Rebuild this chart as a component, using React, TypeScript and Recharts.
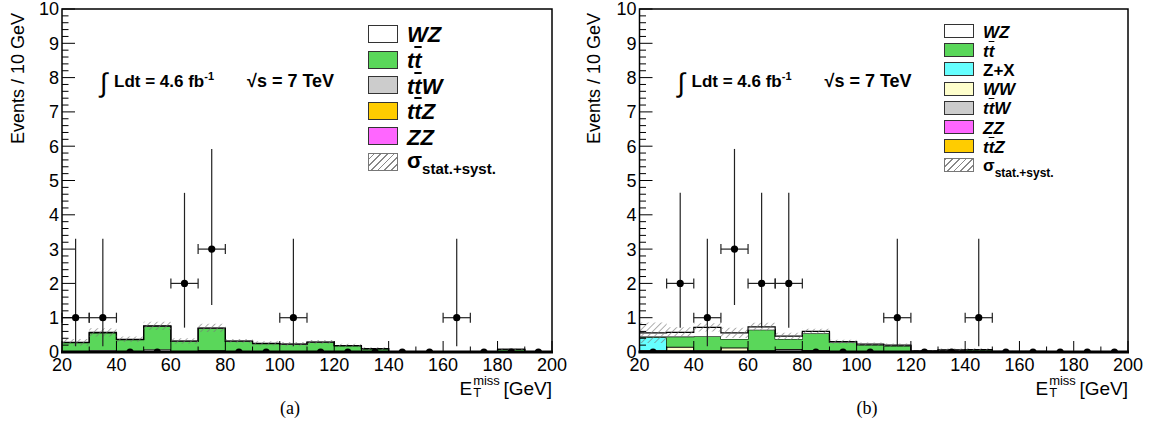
import React from 'react';
import { ComposedChart, Area, Scatter, ErrorBar, XAxis, YAxis } from 'recharts';

const FONT = '"Liberation Sans", Arial, Helvetica, sans-serif';

// bin edges (10 GeV bins), the last one is the upper edge of the last bin
const BIN_EDGES = [20, 30, 40, 50, 60, 70, 80, 90, 100, 110, 120, 130, 140, 150, 160, 170, 180, 190, 200];
const BIN_CENTERS = [25, 35, 45, 55, 65, 75, 85, 95, 105, 115, 125, 135, 145, 155, 165, 175, 185, 195];
const X_LABELS = [20, 40, 60, 80, 100, 120, 140, 160, 180, 200];
const Y_LABELS = [0, 1, 2, 3, 4, 5, 6, 7, 8, 9, 10];

// panel (a) backgrounds, bottom -> top
const A_ZZ = [0.01, 0.01, 0.01, 0.01, 0.01, 0.01, 0, 0, 0, 0, 0, 0, 0, 0, 0, 0, 0, 0];
const A_TTZ = [0.01, 0.01, 0.01, 0.01, 0.01, 0.01, 0.01, 0.01, 0, 0, 0, 0, 0, 0, 0, 0, 0, 0];
const A_TTW = [0.01, 0.04, 0.01, 0.06, 0.01, 0.03, 0.01, 0.01, 0.01, 0.01, 0, 0, 0, 0, 0, 0, 0, 0];
const A_TT = [0.24, 0.5, 0.33, 0.67, 0.28, 0.64, 0.29, 0.22, 0.21, 0.27, 0.18, 0.09, 0, 0.01, 0, 0, 0.08, 0];
const A_WZ = [0.01, 0.01, 0.01, 0.01, 0.01, 0.01, 0.01, 0.01, 0.01, 0.01, 0.01, 0.01, 0, 0, 0, 0, 0, 0];
const A_SYST = [0.1, 0.12, 0.08, 0.12, 0.08, 0.12, 0.06, 0.06, 0.06, 0.06, 0.05, 0.04, 0.01, 0.02, 0.01, 0.01, 0.04, 0.01];
const A_DATA = [1, 1, 0, 0, 2, 3, 0, 0, 1, 0, 0, 0, 0, 0, 1, 0, 0, 0];

// panel (b) backgrounds, bottom -> top
const B_TTZ = [0.01, 0.01, 0.01, 0.01, 0.01, 0.01, 0.01, 0.01, 0, 0, 0, 0, 0, 0, 0, 0, 0, 0];
const B_ZZ = [0.03, 0.03, 0.01, 0.01, 0.01, 0.01, 0.01, 0, 0, 0, 0, 0, 0, 0, 0, 0, 0, 0];
const B_TTW = [0.02, 0.01, 0.02, 0.01, 0.02, 0.06, 0.03, 0.01, 0.01, 0.01, 0, 0, 0, 0, 0, 0, 0, 0];
const B_WW = [0, 0.1, 0.02, 0.1, 0.01, 0.01, 0.01, 0, 0, 0, 0, 0, 0, 0, 0, 0, 0, 0];
const B_ZX = [0.37, 0, 0, 0, 0, 0, 0, 0, 0, 0, 0, 0, 0, 0, 0, 0, 0, 0];
const B_TT = [0.02, 0.3, 0.4, 0.25, 0.6, 0.29, 0.49, 0.26, 0.2, 0.17, 0.02, 0.05, 0.06, 0.01, 0.01, 0, 0, 0];
const B_WZ = [0.11, 0.12, 0.26, 0.18, 0.08, 0.08, 0.05, 0.02, 0.02, 0.02, 0.01, 0.01, 0.01, 0.01, 0.01, 0, 0, 0];
const B_SYST = [0.3, 0.15, 0.12, 0.15, 0.12, 0.1, 0.08, 0.06, 0.05, 0.05, 0.03, 0.04, 0.04, 0.02, 0.02, 0.01, 0, 0];
const B_DATA = [0, 2, 1, 3, 2, 2, 0, 0, 0, 1, 0, 0, 1, 0, 0, 0, 0, 0];

const POISSON_LOW = [0, 0.17, 0.71, 1.37];
const POISSON_HIGH = [0, 3.3, 4.64, 5.92];

const COLORS = {
  WZ: '#ffffff',
  tt: '#5ad75a',
  ZX: '#66ffff',
  WW: '#ffffcc',
  ttW: '#cccccc',
  ZZ: '#ff66ff',
  ttZ: '#ffcc00',
};

const SERIES_A = [
  { key: 'ZZ', values: A_ZZ },
  { key: 'ttZ', values: A_TTZ },
  { key: 'ttW', values: A_TTW },
  { key: 'tt', values: A_TT },
  { key: 'WZ', values: A_WZ },
];

const SERIES_B = [
  { key: 'ttZ', values: B_TTZ },
  { key: 'ZZ', values: B_ZZ },
  { key: 'ttW', values: B_TTW },
  { key: 'WW', values: B_WW },
  { key: 'ZX', values: B_ZX },
  { key: 'tt', values: B_TT },
  { key: 'WZ', values: B_WZ },
];

const LEGEND_A = ['WZ', 'tt', 'ttW', 'ttZ', 'ZZ', 'syst'];
const LEGEND_B = ['WZ', 'tt', 'ZX', 'WW', 'ttW', 'ZZ', 'ttZ', 'syst'];

const Y_TICKS: number[] = [];
Y_LABELS.forEach((m) => {
  for (let k = 0; k < 5; k++) {
    if (m + k * 0.2 <= 10) Y_TICKS.push(Math.round((m + k * 0.2) * 10) / 10);
  }
});

function buildRows(series: { key: string; values: number[] }[], syst: number[]) {
  return BIN_EDGES.map((x, i) => {
    const b = Math.min(i, BIN_CENTERS.length - 1);
    const row: any = { x };
    let tot = 0;
    series.forEach((s) => {
      row[s.key] = s.values[b];
      tot += s.values[b];
    });
    row.band = [Math.max(0, tot - syst[b]), tot + syst[b]];
    return row;
  });
}

function buildPoints(counts: number[]) {
  return BIN_CENTERS.map((x, i) => {
    const n = counts[i];
    return {
      x,
      n,
      ey: n > 0 ? [n - POISSON_LOW[n], POISSON_HIGH[n] - n] : null,
      ex: n > 0 ? 5 : null,
    };
  });
}

const XTick = (props: any) => {
  const { x, y, payload } = props;
  const major = X_LABELS.includes(payload.value);
  return (
    <g>
      <line x1={x} x2={x} y1={y} y2={y - (major ? 11 : 5.5)} stroke="#000" strokeWidth={1} />
      {major && (
        <text x={x} y={y + 19} textAnchor="middle" fontSize={18} fontFamily={FONT} fill="#000">
          {payload.value}
        </text>
      )}
    </g>
  );
};

const YTick = (props: any) => {
  const { x, y, payload } = props;
  const major = Number.isInteger(payload.value);
  return (
    <g>
      <line x1={x} x2={x + (major ? 13 : 6.5)} y1={y} y2={y} stroke="#000" strokeWidth={1} />
      {major && (
        <text x={x - 3} y={y} dy="0.36em" textAnchor="end" fontSize={18} fontFamily={FONT} fill="#000">
          {payload.value}
        </text>
      )}
    </g>
  );
};

const Dot = (p: any) => <circle cx={p.cx} cy={p.cy} r={3.6} fill="#000" />;

function Panel({ left, marginLeft, marginRight, series, syst, counts }: any) {
  const rows = buildRows(series, syst);
  const points = buildPoints(counts);
  return (
    <div style={{ position: 'absolute', left, top: 0 }}>
      <ComposedChart
        width={580}
        height={400}
        data={rows}
        margin={{ top: 9, right: marginRight, bottom: 47, left: marginLeft }}
      >
        <XAxis
          dataKey="x"
          type="number"
          domain={[20, 200]}
          ticks={BIN_EDGES}
          interval={0}
          tick={<XTick />}
          tickLine={false}
          axisLine={false}
          tickSize={0}
          tickMargin={0}
          height={1}
          allowDataOverflow
        />
        <YAxis
          type="number"
          domain={[0, 10]}
          ticks={Y_TICKS}
          interval={0}
          tick={<YTick />}
          tickLine={false}
          axisLine={false}
          tickSize={0}
          tickMargin={0}
          width={1}
          allowDataOverflow
        />
        {series.map((s: any) => (
          <Area
            key={s.key}
            type="stepAfter"
            dataKey={s.key}
            stackId="bkg"
            fill={(COLORS as any)[s.key]}
            fillOpacity={1}
            stroke="#000"
            strokeWidth={1.2}
            dot={false}
            activeDot={false}
            isAnimationActive={false}
          />
        ))}
        <Area
          type="stepAfter"
          dataKey="band"
          fill="url(#hatch)"
          fillOpacity={1}
          stroke="none"
          dot={false}
          activeDot={false}
          isAnimationActive={false}
        />
        <Scatter data={points} dataKey="n" shape={<Dot />} isAnimationActive={false}>
          <ErrorBar dataKey="ey" direction="y" width={0} stroke="#222" strokeWidth={1.2} />
          <ErrorBar dataKey="ex" direction="x" width={5} stroke="#222" strokeWidth={1.2} />
        </Scatter>
      </ComposedChart>
    </div>
  );
}

const Bar = ({ children }: any) => <span style={{ textDecoration: 'overline' }}>{children}</span>;

function legendLabel(key: string, sub: number) {
  switch (key) {
    case 'WZ':
      return <i>WZ</i>;
    case 'tt':
      return <i>t<Bar>t</Bar></i>;
    case 'ttW':
      return <i>t<Bar>t</Bar>W</i>;
    case 'ttZ':
      return <i>t<Bar>t</Bar>Z</i>;
    case 'ZZ':
      return <i>ZZ</i>;
    case 'WW':
      return <i>WW</i>;
    case 'ZX':
      return <span>Z+X</span>;
    default:
      return (
        <span>
          σ<span style={{ fontSize: sub, position: 'relative', top: sub * 0.45 }}>stat.+syst.</span>
        </span>
      );
  }
}

function Legend({ keys, boxLeft, labelLeft, top, step, boxH, font, sub, systShift }: any) {
  return (
    <>
      {keys.map((k: string, i: number) => {
        const t = top + i * step;
        const isSyst = k === 'syst';
        return (
          <React.Fragment key={k}>
            <div
              style={{
                position: 'absolute',
                left: boxLeft,
                top: t,
                width: 30,
                height: boxH,
                boxSizing: 'border-box',
                border: isSyst ? '1.2px solid #777' : '1.5px solid #333',
                background: isSyst
                  ? 'repeating-linear-gradient(-45deg, #fff 0px, #fff 3.5px, #888 3.5px, #888 4.7px)'
                  : (COLORS as any)[k],
              }}
            />
            <div
              style={{
                position: 'absolute',
                left: labelLeft,
                top: isSyst ? t + systShift : t + boxH - font * 0.85,
                fontFamily: FONT,
                fontWeight: 'bold',
                fontSize: font,
                lineHeight: `${font}px`,
                whiteSpace: 'nowrap',
                color: '#000',
              }}
            >
              {legendLabel(k, sub)}
            </div>
          </React.Fragment>
        );
      })}
    </>
  );
}

function XTitle({ right }: any) {
  return (
    <div
      style={{
        position: 'absolute',
        right: 1158 - right,
        top: 379,
        display: 'flex',
        fontFamily: FONT,
        fontSize: 19,
        lineHeight: '20px',
        whiteSpace: 'nowrap',
      }}
    >
      <span>E</span>
      <span style={{ position: 'relative', width: 26, height: 20 }}>
        <span style={{ position: 'absolute', left: 1, top: -4.5, fontSize: 13, lineHeight: '12px' }}>miss</span>
        <span style={{ position: 'absolute', left: 1, top: 7.8, fontSize: 13, lineHeight: '12px' }}>T</span>
      </span>
      <span>&nbsp;[GeV]</span>
    </div>
  );
}

function Lumi({ x }: { x: number }) {
  return (
    <g fontFamily={FONT} fill="#000">
      <text x={x} y={92} fontSize={27}>∫</text>
      <text x={x + 14} y={86.5} fontSize={17} fontWeight="bold">
        Ldt = 4.6 fb<tspan dy={-7} fontSize={11}>-1</tspan>
      </text>
      <text x={x + 147} y={86.5} fontSize={18} fontWeight="bold">√s = 7 TeV</text>
    </g>
  );
}

export default function App() {
  return (
    <div style={{ position: 'absolute', left: 0, top: 0, width: 1158, height: 443, background: '#fff' }}>
      <svg width={0} height={0} style={{ position: 'absolute' }}>
        <defs>
          <pattern id="hatch" patternUnits="userSpaceOnUse" width={4.7} height={4.7} patternTransform="rotate(45)">
            <line x1={0} y1={0} x2={0} y2={4.7} stroke="#777" strokeWidth={1.2} />
          </pattern>
        </defs>
      </svg>

      <Panel left={0} marginLeft={61} marginRight={28} series={SERIES_A} syst={A_SYST} counts={A_DATA} />
      <Panel left={578} marginLeft={60.5} marginRight={30} series={SERIES_B} syst={B_SYST} counts={B_DATA} />

      <svg
        width={1158}
        height={443}
        style={{ position: 'absolute', left: 0, top: 0, pointerEvents: 'none' }}
      >
        {/* frames */}
        <rect x={62} y={9} width={490} height={343} fill="none" stroke="#000" strokeWidth={1.5} />
        <line x1={61} x2={553} y1={352} y2={352} stroke="#000" strokeWidth={3} />
        <rect x={639.5} y={9} width={488.5} height={343} fill="none" stroke="#000" strokeWidth={1.5} />
        <line x1={638.5} x2={1129} y1={352} y2={352} stroke="#000" strokeWidth={3} />

        {/* y titles */}
        <text transform="translate(23.5,13) rotate(-90)" textAnchor="end" fontSize={18} fontFamily={FONT}>
          Events / 10 GeV
        </text>
        <text transform="translate(600,13) rotate(-90)" textAnchor="end" fontSize={18} fontFamily={FONT}>
          Events / 10 GeV
        </text>

        <Lumi x={100} />
        <Lumi x={677.5} />

        {/* captions */}
        <text x={290} y={414} textAnchor="middle" fontSize={18} fontFamily='"Liberation Serif", serif'>(a)</text>
        <text x={867} y={414} textAnchor="middle" fontSize={18} fontFamily='"Liberation Serif", serif'>(b)</text>
      </svg>

      <XTitle right={552} />
      <XTitle right={1128} />

      <Legend keys={LEGEND_A} boxLeft={368} labelLeft={407} top={25} step={25.6} boxH={18} font={22} sub={15} systShift={-3.5} />
      <Legend keys={LEGEND_B} boxLeft={944} labelLeft={983} top={24} step={19.2} boxH={14} font={17} sub={12} systShift={-1} />
    </div>
  );
}
